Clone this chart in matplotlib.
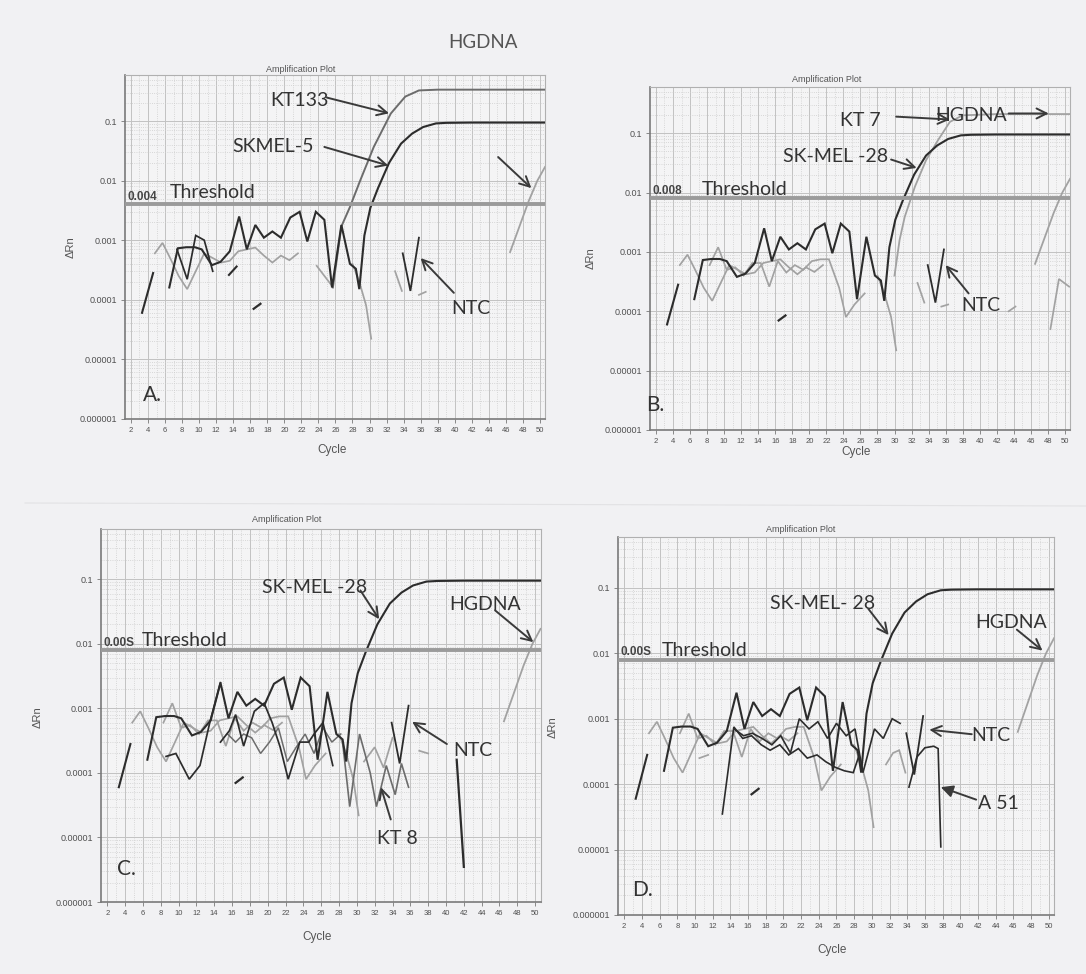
import numpy as np
import matplotlib
matplotlib.use("Agg")
import matplotlib.pyplot as plt
from matplotlib.ticker import FixedLocator, NullFormatter

nan = np.nan

# ---- traces shared by all four runs ----
# SK-MEL amplification trace (baseline noise, then the rise and plateau)
SKMEL_CYC = [3.3, 4.6, nan, 6.5, 7.5, 8.5, 9.5, 10.3, 11.5, 12.5, 13.6, 14.7, 15.6, 16.6, 17.6,
             18.6, 19.6, 20.7, 21.8, 22.7, 23.7, 24.7, 25.6, 26.7, 27.7, 28.4, 28.8, 29.4,
             30.1, 31.0, 32.3, 33.7, 35.0, 36.3, 37.8, 39.0, 42.0, 46.0, 50.6]
SKMEL_VAL = [6e-5, 2.8e-4, nan, 1.6e-4, 7.3e-4, 7.6e-4, 7.6e-4, 7.0e-4, 3.8e-4, 4.3e-4, 6.5e-4,
             2.5e-3, 7e-4, 1.8e-3, 1.1e-3, 1.4e-3, 1.1e-3, 2.4e-3, 3.0e-3, 9.5e-4, 3.0e-3,
             2.2e-3, 1.6e-4, 1.8e-3, 4.0e-4, 3.3e-4, 1.5e-4, 1.2e-3, 3.5e-3, 7.5e-3, 2.0e-2,
             4.2e-2, 6.2e-2, 8.0e-2, 9.2e-2, 9.4e-2, 9.5e-2, 9.5e-2, 9.5e-2]

GRAY1_CYC = [4.8, 5.7, 6.6, 7.6, 8.6, 9.6, 10.6, 11.6, 12.6, 13.6, 14.6, 15.6, 16.6, 17.6,
             18.6, 19.6, 20.6, 21.6]
GRAY1_VAL = [6e-4, 9e-4, 5e-4, 2.5e-4, 1.5e-4, 3e-4, 6e-4, 5e-4, 4.2e-4, 4.5e-4, 6.5e-4,
             7e-4, 7.5e-4, 5.5e-4, 4.2e-4, 5.5e-4, 4.6e-4, 6e-4]

GRAY2_CYC = [8.3, 9.3, 10.3, 11.3, 12.3, 13.3, 14.3, 15.3, 16.3, 17.3, 18.3, 19.3, 20.3, 21.3,
             22.3, 23.5, 24.3, 25.3, 26.5]
GRAY2_VAL = [6e-4, 1.2e-3, 5e-4, 5.5e-4, 4e-4, 6.5e-4, 6.5e-4, 2.6e-4, 7e-4, 4.5e-4, 6e-4,
             5e-4, 7e-4, 7.5e-4, 7.5e-4, 2.5e-4, 8e-5, 1.3e-4, 2e-4]

DIP_CYC = [28.0, 28.8, 29.6, 30.2]
DIP_VAL = [4e-4, 2e-4, 8e-5, 2.2e-5]

DASH_CYC = [16.4, 17.2]
DASH_VAL = [7e-5, 8.5e-5]

NTC_CYC = [33.9, 34.8, 35.8]
NTC_VAL = [6e-4, 1.4e-4, 1.1e-3]

HG_CYC = [46.5, 47.6, 48.7, 49.7, 50.6]
HG_VAL = [6.3e-4, 1.7e-3, 4.6e-3, 1.0e-2, 1.7e-2]

# ---- run A ----
KT133_CYC = [25.7, 26.7, 27.7, 28.9, 30.5, 32.5, 34.2, 35.8, 38.0, 42.0, 46.0, 50.6]
KT133_VAL = [1.6e-4, 1.7e-3, 3.6e-3, 1.0e-2, 3.7e-2, 1.35e-1, 2.6e-1, 3.3e-1, 3.4e-1, 3.4e-1,
             3.4e-1, 3.4e-1]
A_DARK_CYC = [7.4, 8.6, 9.6, 10.6, 11.6]
A_DARK_VAL = [7e-4, 2.2e-4, 1.2e-3, 1.0e-3, 3e-4]
A_GRAY_CYC = [23.8, 25.6, nan, 33.0, 33.8, nan, 35.8, 36.6]
A_GRAY_VAL = [3.7e-4, 1.7e-4, nan, 3e-4, 1.4e-4, nan, 1.2e-4, 1.35e-4]
A_DASH_CYC = [13.5, 14.4]
A_DASH_VAL = [2.6e-4, 3.6e-4]

# ---- run B ----
KT7_CYC = [30.0, 30.6, 31.2, 32.4, 33.7, 35.1, 36.5, 38.0, 42.0, 46.0, 50.6]
KT7_VAL = [4e-4, 1.6e-3, 3.9e-3, 1.26e-2, 3.5e-2, 7.6e-2, 1.55e-1, 2.0e-1, 2.1e-1, 2.1e-1, 2.1e-1]
B_GRAY_CYC = [32.7, 33.5, nan, 35.5, 36.3, nan, 43.4, 44.2, nan, 48.3, 49.3, 50.5]
B_GRAY_VAL = [3e-4, 1.4e-4, nan, 1.2e-4, 1.3e-4, nan, 1e-4, 1.2e-4, nan, 5e-5, 3.5e-4, 2.6e-4]

# ---- run C ----
C_DARK1_CYC = [8.6, 9.7, 11.2, 12.4, 13.5, 14.7]
C_DARK1_VAL = [1.8e-4, 2e-4, 8e-5, 1.3e-4, 6e-4, 2.5e-3]
C_DARK2_CYC = [14.7, 15.7, 16.4, 17.3, 18.5, 19.6, 20.5, 21.4, 22.3, 23.6, 24.6, 25.2, 26.2, 27.3]
C_DARK2_VAL = [3e-4, 4.5e-4, 8e-4, 2.6e-4, 9e-4, 1.2e-3, 6e-4, 2.5e-4, 8e-5, 3e-4, 3e-4, 4e-4,
               6e-4, 1.3e-4]
C_MID_CYC = [15.5, 16.4, 17.3, 18.2, 19.2, 20.2, 21.2, 22.2, 23.2, 24.2, 25.2, 26.2, 27.2, 28.2]
C_MID_VAL = [4e-4, 3e-4, 4e-4, 3.5e-4, 2e-4, 3e-4, 5e-4, 1.5e-4, 2.5e-4, 4e-4, 2e-4, 5e-4,
             3e-4, 4e-4]
KT8_CYC = [28.4, 29.2, 30.3, 31.5, 32.2, 33.3, 34.3, 35.0, 35.8]
KT8_VAL = [3e-4, 3e-5, 4e-4, 1e-4, 3e-5, 1.3e-4, 4.6e-5, 1.4e-4, 6e-5]
C_GRAY_CYC = [30.8, 32.0, 33.0, 34.0, nan, 37.0, 38.0]
C_GRAY_VAL = [1.5e-4, 2.5e-4, 1.2e-4, 3.5e-4, nan, 2.2e-4, 2e-4]
C_DROP_CYC = [41.2, 42.0]
C_DROP_VAL = [1.6e-4, 3.5e-6]

# ---- run D ----
D_MID_CYC = [14.4, 15.5, 16.5, 17.6, 18.7, 19.7, 20.8, 21.8, 22.9, 23.9, 25.0, 26.0, 27.1, 28.1,
             29.0, 30.3, 31.3, 32.3, 33.2]
D_MID_VAL = [7e-4, 5.5e-4, 6e-4, 5e-4, 4e-4, 5.5e-4, 3e-4, 1e-3, 7e-4, 9e-4, 5e-4, 8.5e-4,
             5.5e-4, 7e-4, 1.5e-4, 7e-4, 5e-4, 1e-3, 8.5e-4]
A51_CYC = [13.1, 14.4, 15.4, 16.4, 17.5, 18.5, 19.6, 20.6, 21.7, 22.7, 23.8, 24.8, 25.9, 26.9,
           27.9, 28.5, nan, 34.2, 35.1, 36.0, 37.0, 37.5, 37.8]
A51_VAL = [3.5e-5, 7.5e-4, 5e-4, 5.5e-4, 4e-4, 3.3e-4, 4e-4, 2.8e-4, 3.5e-4, 2.5e-4, 2.8e-4,
           2.2e-4, 1.8e-4, 1.6e-4, 1.5e-4, 2.6e-4, nan, 9e-5, 2.6e-4, 3.6e-4, 3.8e-4, 3.5e-4,
           1.1e-5]
D_GRAY_CYC = [10.5, 11.5, nan, 31.6, 32.4, 33.1, 33.8]
D_GRAY_VAL = [2.5e-4, 2.8e-4, nan, 2e-4, 3e-4, 3.3e-4, 1.5e-4]

THRESHOLDS = {"A": 0.004, "B": 0.008, "C": 0.008, "D": 0.008}
THRESH_TEXT = {"A": "0.004", "B": "0.008", "C": "0.00S", "D": "0.00S"}

X_TICKS = list(range(2, 51, 2))
Y_TICKS = [1e-6, 1e-5, 1e-4, 1e-3, 1e-2, 1e-1]
Y_LABELS = ["0.000001", "0.00001", "0.0001", "0.001", "0.01", "0.1"]

DARK = "#2c2c2c"
MID = "#6c6c6c"
LIGHT = "#a2a2a2"
PAPER = "#f1f1f3"
INK = "#333333"

W, H = 1086, 974
fig = plt.figure(figsize=(W / 100, H / 100), dpi=100, facecolor=PAPER)


def fx(x):
    return x / W


def fy(y):
    return 1 - y / H


def make_axes(left, top, right, bottom):
    ax = fig.add_axes([fx(left), fy(bottom), (right - left) / W, (bottom - top) / H])
    ax.set_facecolor("#f4f4f5")
    ax.set_yscale("log")
    ax.set_xlim(1.3, 50.6)
    ax.set_ylim(1e-6, 0.6)
    ax.xaxis.set_major_locator(FixedLocator(X_TICKS))
    ax.xaxis.set_minor_locator(FixedLocator(np.arange(1, 51)))
    ax.yaxis.set_major_locator(FixedLocator(Y_TICKS))
    minors = [m * 10.0 ** e for e in range(-6, 0) for m in range(2, 10)]
    ax.yaxis.set_minor_locator(FixedLocator(minors))
    ax.yaxis.set_minor_formatter(NullFormatter())
    ax.set_xticklabels([str(t) for t in X_TICKS], fontsize=5.5, color="#505050",
                       family="Liberation Sans")
    ax.set_yticklabels(Y_LABELS, fontsize=6.5, color="#505050", family="Liberation Sans")
    ax.tick_params(which="major", length=3, width=0.7, color="#888888", pad=3)
    ax.tick_params(which="minor", length=0)
    ax.grid(which="major", color="#c2c2c2", lw=0.7, ls="-")
    ax.grid(which="minor", color="#cdcdcd", lw=0.6, ls=":")
    for side in ("left", "bottom"):
        ax.spines[side].set_color("#7a7a7a")
        ax.spines[side].set_linewidth(1.2)
    for side in ("top", "right"):
        ax.spines[side].set_color("#b0b0b0")
        ax.spines[side].set_linewidth(0.8)
    return ax


def line(ax, cyc, val, color, lw=1.25):
    ax.plot(cyc, val, color=color, lw=lw, solid_joinstyle="miter", zorder=3)


def label(ax, text, pos, size=14):
    ax.text(pos[0], pos[1], text, fontsize=size, color=INK, family="Lato",
            ha="center", va="center", zorder=6)


def arrow(ax, start, tip, style="->"):
    ax.annotate("", xy=tip, xytext=start, zorder=6,
                arrowprops=dict(arrowstyle=style, color="#3a3a3a", lw=1.4,
                                mutation_scale=18, shrinkA=0, shrinkB=0))


def threshold(ax, key, text_cyc, text_val):
    t = THRESHOLDS[key]
    ax.axhline(t, color="#9b9b9b", lw=2.8, zorder=4)
    ax.text(1.6, t * 1.05, THRESH_TEXT[key], fontsize=8.5, fontweight="bold", color="#454545",
            family="Liberation Sans", ha="left", va="bottom", zorder=6)
    ax.text(text_cyc, text_val, "Threshold", fontsize=14, color=INK, family="Lato",
            ha="left", va="bottom", zorder=6)


def shared(ax, extra_gray=True):
    line(ax, GRAY1_CYC, GRAY1_VAL, LIGHT)
    if extra_gray:
        line(ax, GRAY2_CYC, GRAY2_VAL, LIGHT)
    line(ax, DIP_CYC, DIP_VAL, LIGHT)
    line(ax, HG_CYC, HG_VAL, LIGHT, 1.3)
    line(ax, DASH_CYC, DASH_VAL, DARK, 1.6)
    line(ax, NTC_CYC, NTC_VAL, DARK, 1.3)


def panel_text(title_xy, ylab_xy, xlab_xy):
    fig.text(fx(title_xy[0]), fy(title_xy[1]), "Amplification Plot", fontsize=6.5,
             color="#555555", family="Liberation Sans", ha="center", va="center")
    fig.text(fx(ylab_xy[0]), fy(ylab_xy[1]), "ΔRn", fontsize=8, rotation=90,
             color="#555555", family="Liberation Sans", ha="center", va="center")
    fig.text(fx(xlab_xy[0]), fy(xlab_xy[1]), "Cycle", fontsize=8.5,
             color="#555555", family="Liberation Sans", ha="center", va="center")


fig.text(fx(483), fy(42), "HGDNA", fontsize=13.5, color="#555555", family="Lato",
         ha="center", va="center")
fig.add_artist(plt.Line2D([fx(25), fx(1086)], [fy(503), fy(506)], color="#e2e2e4", lw=0.8))

# ---- A ----
axA = make_axes(125, 75, 545, 418.5)
shared(axA, extra_gray=False)
line(axA, A_DARK_CYC, A_DARK_VAL, DARK)
line(axA, A_GRAY_CYC, A_GRAY_VAL, LIGHT)
line(axA, A_DASH_CYC, A_DASH_VAL, DARK, 1.5)
line(axA, KT133_CYC, KT133_VAL, MID, 1.4)
line(axA, SKMEL_CYC, SKMEL_VAL, DARK, 1.5)
threshold(axA, "A", 6.6, 0.0045)
label(axA, "KT133", (21.8, 0.225))
arrow(axA, (25.0, 0.25), (32.3, 0.136))
label(axA, "SKMEL-5", (18.7, 0.037))
arrow(axA, (24.7, 0.037), (32.2, 0.018))
arrow(axA, (45.1, 0.025), (49.0, 0.0075))
label(axA, "NTC", (41.9, 7.2e-5))
arrow(axA, (39.9, 1.3e-4), (36.0, 5e-4))
label(axA, "A.", (4.5, 2.5e-6), 15)
panel_text((301, 69), (71, 247), (332, 450))

# ---- B ----
axB = make_axes(650, 87, 1070, 430)
shared(axB)
line(axB, B_GRAY_CYC, B_GRAY_VAL, LIGHT)
line(axB, KT7_CYC, KT7_VAL, LIGHT, 1.3)
line(axB, SKMEL_CYC, SKMEL_VAL, DARK, 1.5)
threshold(axB, "B", 7.4, 0.0082)
label(axB, "KT 7", (26.0, 0.166))
arrow(axB, (30.2, 0.19), (36.5, 0.17))
label(axB, "HGDNA", (39.0, 0.2))
arrow(axB, (43.4, 0.215), (48.1, 0.215))
label(axB, "SK-MEL -28", (23.1, 0.041))
arrow(axB, (29.6, 0.036), (32.6, 0.026))
label(axB, "NTC", (40.1, 1.26e-4))
arrow(axB, (38.7, 2e-4), (36.0, 6e-4))
label(axB, "B.", (1.9, 2.6e-6), 15)
panel_text((827, 79), (591, 258), (856, 452))

# ---- C ----
axC = make_axes(101, 529, 540.5, 902)
shared(axC)
line(axC, C_MID_CYC, C_MID_VAL, MID, 1.1)
line(axC, C_DARK1_CYC, C_DARK1_VAL, DARK)
line(axC, C_DARK2_CYC, C_DARK2_VAL, DARK)
line(axC, C_GRAY_CYC, C_GRAY_VAL, LIGHT)
line(axC, KT8_CYC, KT8_VAL, MID, 1.2)
line(axC, C_DROP_CYC, C_DROP_VAL, DARK, 1.6)
line(axC, SKMEL_CYC, SKMEL_VAL, DARK, 1.5)
threshold(axC, "C", 5.9, 0.0082)
label(axC, "SK-MEL -28", (25.3, 0.075))
arrow(axC, (30.4, 0.067), (32.5, 0.024))
label(axC, "HGDNA", (44.4, 0.04))
arrow(axC, (45.5, 0.033), (49.8, 0.0106))
label(axC, "NTC", (43.0, 2.2e-4))
arrow(axC, (40.1, 2.8e-4), (36.2, 6.2e-4))
label(axC, "KT 8", (34.6, 9.5e-6))
arrow(axC, (33.8, 1.9e-5), (32.7, 6e-5))
label(axC, "C.", (4.1, 3.2e-6), 15)
panel_text((287, 520), (38, 717), (317, 937))

# ---- D ----
axD = make_axes(618, 537, 1054, 915)
shared(axD)
line(axD, D_GRAY_CYC, D_GRAY_VAL, LIGHT)
line(axD, D_MID_CYC, D_MID_VAL, DARK, 1.2)
line(axD, A51_CYC, A51_VAL, DARK, 1.2)
line(axD, SKMEL_CYC, SKMEL_VAL, DARK, 1.5)
threshold(axD, "D", 6.3, 0.0082)
label(axD, "SK-MEL- 28", (24.4, 0.057))
arrow(axD, (29.6, 0.048), (31.9, 0.019))
label(axD, "HGDNA", (45.8, 0.03))
arrow(axD, (46.4, 0.023), (49.3, 0.011))
label(axD, "NTC", (43.5, 5.6e-4))
arrow(axD, (41.3, 5.8e-4), (36.5, 6.8e-4))
label(axD, "A 51", (44.3, 5e-5))
arrow(axD, (41.8, 5.8e-5), (37.8, 9e-5), "-|>")
label(axD, "D.", (4.1, 2.4e-6), 15)
panel_text((801, 529), (553, 727), (832, 950))

fig.savefig("out.png", dpi=100, facecolor=PAPER)
